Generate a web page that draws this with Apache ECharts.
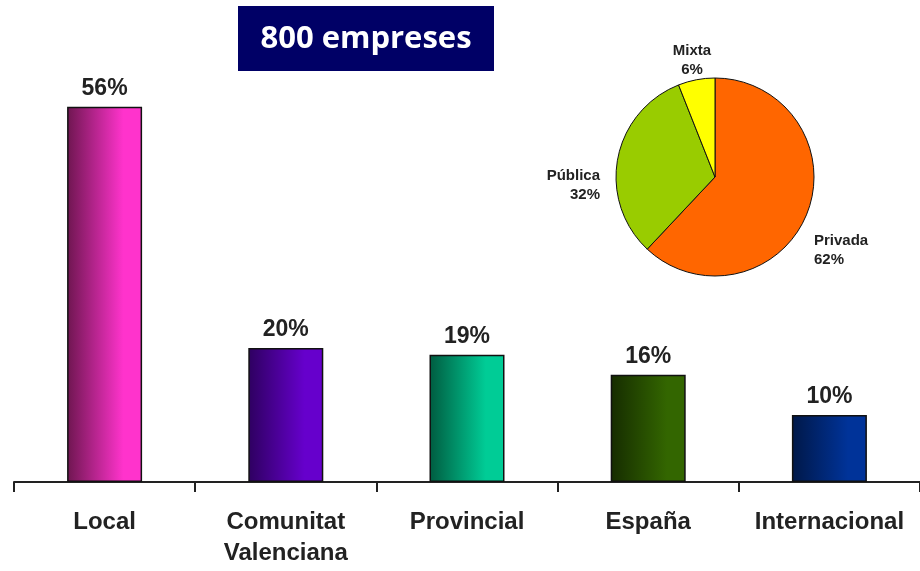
<!DOCTYPE html>
<html>
<head>
<meta charset="utf-8">
<script src="https://cdn.jsdelivr.net/npm/echarts@6/dist/echarts.min.js"></script>
<style>
  html, body { margin: 0; padding: 0; background: #fff; }
  #chart { width: 920px; height: 571px; }
</style>
</head>
<body>
<div id="chart"></div>
<script>
// dades
var categories = ['Local', 'Comunitat\nValenciana', 'Provincial', 'España', 'Internacional'];
var values = [56, 20, 19, 16, 10];
var pieNames = ['Privada', 'Pública', 'Mixta'];
var pieValues = [62, 32, 6];

// colors de les barres (fosc -> clar)
var barColors = [
    ['#6e1650', '#ff33cc'],
    ['#2e0060', '#6600cc'],
    ['#005c40', '#00cc96'],
    ['#162c00', '#336600'],
    ['#001848', '#003399']
];
var pieColors = ['#ff6600', '#99cc00', '#ffff00'];

// posicio de les etiquetes del pastis
var pieLabelPos = [
    { x: 814, y: 250, align: 'left' },
    { x: 600, y: 185, align: 'right' },
    { x: 692, y: 60, align: 'center' }
];

var chart = echarts.init(document.getElementById('chart'));

var option = {
    backgroundColor: '#ffffff',
    animation: false,
    graphic: [{
        type: 'group',
        left: 238,
        top: 6,
        children: [{
            type: 'rect',
            shape: { x: 0, y: 0, width: 256, height: 65 },
            style: { fill: '#000066' }
        }, {
            type: 'text',
            x: 128,
            y: 33,
            style: {
                text: '800 empreses',
                fill: '#ffffff',
                font: 'bold 31px "Open Sans", sans-serif',
                align: 'center',
                verticalAlign: 'middle'
            }
        }]
    }],
    grid: { left: 14, right: -5, top: 80, bottom: 89 },
    xAxis: {
        type: 'category',
        data: categories,
        axisLine: { lineStyle: { color: '#222', width: 2 } },
        axisTick: { show: true, interval: 0, length: 10, lineStyle: { color: '#222', width: 2 } },
        axisLabel: {
            interval: 0,
            color: '#222',
            fontFamily: '"Liberation Sans", Arial, sans-serif',
            fontWeight: 'bold',
            fontSize: 24,
            lineHeight: 31,
            margin: 25
        }
    },
    yAxis: { type: 'value', min: 0, max: 60, show: false, splitLine: { show: false } },
    series: [{
        type: 'bar',
        barWidth: 75,
        data: values.map(function (v, i) {
            return {
                value: v,
                itemStyle: {
                    color: new echarts.graphic.LinearGradient(0, 0, 1, 0, [
                        { offset: 0, color: barColors[i][0] },
                        { offset: 0.75, color: barColors[i][1] },
                        { offset: 1, color: barColors[i][1] }
                    ])
                }
            };
        }),
        itemStyle: { borderColor: '#111', borderWidth: 1.5 },
        label: {
            show: true,
            position: 'top',
            distance: 7,
            formatter: '{c}%',
            color: '#222',
            fontFamily: '"Liberation Sans", Arial, sans-serif',
            fontWeight: 'bold',
            fontSize: 23
        }
    }, {
        type: 'pie',
        center: [715, 177],
        radius: 99,
        startAngle: 90,
        clockwise: true,
        data: pieNames.map(function (n, i) {
            return { name: n, value: pieValues[i], itemStyle: { color: pieColors[i] } };
        }),
        itemStyle: { borderColor: '#111', borderWidth: 1 },
        label: {
            show: true,
            formatter: '{b}\n{c}%',
            color: '#222',
            fontFamily: '"Liberation Sans", Arial, sans-serif',
            fontWeight: 'bold',
            fontSize: 15,
            lineHeight: 19,
            overflow: 'none',
            width: 120
        },
        labelLine: { show: false },
        labelLayout: function (p) {
            var pos = pieLabelPos[p.dataIndex];
            return { x: pos.x, y: pos.y, align: pos.align, verticalAlign: 'middle' };
        },
        emphasis: { disabled: true }
    }]
};

chart.setOption(option);
</script>
</body>
</html>
